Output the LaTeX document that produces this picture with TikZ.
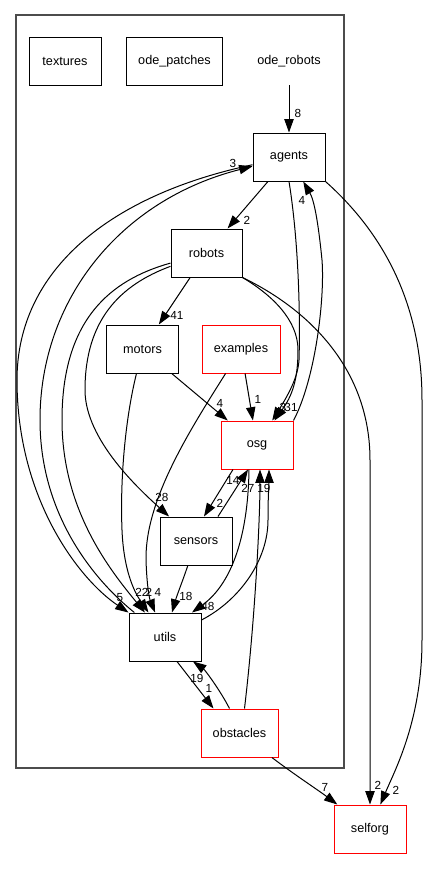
\documentclass[tikz,border=0pt]{standalone}
\usepackage{fontspec}
\setmainfont{Liberation Sans}
\usetikzlibrary{arrows.meta,calc}
\tikzset{
  box/.style={draw, line width=0.75pt, inner sep=0pt, minimum height=36pt, minimum width=54pt, font=\fontsize{9.5}{11}\selectfont},
  redbox/.style={box, draw=red},
  plain/.style={inner sep=0pt, minimum height=36pt, minimum width=54pt, font=\fontsize{9.5}{11}\selectfont},
  e/.style={-{Triangle[length=10pt,width=7pt]}, line width=0.75pt},
  lab/.style={inner sep=0pt, font=\fontsize{8.8}{10}\selectfont},
  cluster/.style={draw=black!70, line width=1pt}
}
\begin{document}
\begin{tikzpicture}[x=0.75pt,y=-0.75pt]
\useasboundingbox (0,0) rectangle (427,869);
\draw[cluster] (16,15) rectangle (344,768);
% nodes
\node[box] (textures) at (65,61) {textures};
\node[box, minimum width=72pt] (odepatches) at (174.5,61) {ode\_patches};
\node[plain] (oderobots) at (289,61) {ode\_robots};
\node[box] (agents) at (289,157) {agents};
\node[box, minimum width=53.25pt] (robots) at (206.5,253) {robots};
\node[box] (motors) at (142.5,349) {motors};
\node[redbox, minimum width=58.5pt] (examples) at (241,349) {examples};
\node[redbox] (osg) at (257,445) {osg};
\node[box] (sensors) at (196,541) {sensors};
\node[box] (utils) at (165,637) {utils};
\node[redbox, minimum width=57.75pt] (obstacles) at (239.5,733) {obstacles};
\node[redbox] (selforg) at (370,829) {selforg};
% edges
\draw[e] (oderobots) -- (agents);
\draw[e] (agents) -- (robots);
\draw[e] (agents) .. controls (110,195) and (17,270) .. (17,380) .. controls (17,500) and (80,580) .. (utils);
\draw[e] (utils) .. controls (100,585) and (40,520) .. (40,420) .. controls (40,300) and (120,200) .. (agents);
\draw[e] (robots) .. controls (110,280) and (62,320) .. (62,420) .. controls (62,510) and (110,570) .. (utils);
\draw[e] (robots) .. controls (120,285) and (85,320) .. (85,390) .. controls (85,440) and (140,490) .. (sensors);
\draw[e] (robots) -- (motors);
\draw[e] (robots.south east) .. controls (272,295) and (298,320) .. (298,350) .. controls (298,380) and (292,396) .. (osg);
\draw[e] (robots.south east) .. controls (310,310) and (370,370) .. (370,460) -- (selforg);
\draw[e] (agents.south) .. controls (300,250) and (300,330) .. (299,360) .. controls (298,376) and (290,392) .. (osg);
\draw[e] (osg.north east) .. controls (315,380) and (325,300) .. (322,260) .. controls (318,220) and (314,200) .. (agents);
\draw[e] (agents.south east) .. controls (380,230) and (422,300) .. (422,400) -- (422,640) .. controls (422,720) and (395,770) .. (selforg);
\draw[e] (motors) -- (osg);
\draw[e] (examples) -- (osg);
\draw[e] (examples) .. controls (190,430) and (145,500) .. (146,560) .. controls (147,590) and (150,600) .. (utils);
\draw[e] (motors) .. controls (125,420) and (120,480) .. (122,530) .. controls (124,580) and (140,600) .. (utils);
\draw[e] (sensors) .. controls (183,580) and (177,595) .. (utils);
\draw[e] ($(osg.south)+(-24,0)$) -- ($(sensors.north)+(8,0)$);
\draw[e] ($(sensors.north)+(22,0)$) -- ($(osg.south)+(-9,0)$);
\draw[e] ($(osg.south)+(-8,0)$) .. controls (248,540) and (230,585) .. ($(utils.north)+(27,0)$);
\draw[e] ($(utils.east)+(0,-17)$) .. controls (240,600) and (268,560) .. (268,520) .. controls (268,495) and (269,485) .. ($(osg.south)+(12,0)$);
\draw[e] ($(obstacles.north)+(5,0)$) .. controls (255,620) and (260,520) .. ($(osg.south)+(3,0)$);
\draw[e] ($(utils.south)+(12,0)$) -- ($(obstacles.north)+(-26,0)$);
\draw[e] ($(obstacles.north)+(-10,0)$) .. controls (220,690) and (205,670) .. ($(utils.south)+(28,0)$);
\draw[e] (obstacles) .. controls (295,775) and (318,790) .. (selforg);
% labels
\node[lab] (l8) at (298,113) {8};
\node[lab] (l2a) at (247,220) {2};
\node[lab] (l3a) at (233,163) {3};
\node[lab] (l4a) at (302,200) {4};
\node[lab] (l5) at (120,598) {5};
\node[lab] (l41) at (177,315) {41};
\node[lab] (l4m) at (220,403) {4};
\node[lab] (l1e) at (258,399) {1};
\node[lab] (l3o) at (283,407) {3};
\node[lab] (l31) at (291,407) {31};
\node[lab] (l28) at (162,497) {28};
\node[lab] (l14) at (233,480) {14};
\node[lab] (l2s) at (220,503) {2};
\node[lab] (l27) at (248,488) {27};
\node[lab] (l19o) at (264,488) {19};
\node[lab] (l22) at (142,592) {22};
\node[lab] (l2u) at (149,592) {2};
\node[lab] (l4u) at (158,592) {4};
\node[lab] (l18) at (186,596) {18};
\node[lab] (l48) at (208,606) {48};
\node[lab] (l19u) at (197,678) {19};
\node[lab] (l1o) at (209,688) {1};
\node[lab] (l7) at (325,787) {7};
\node[lab] (l2r) at (378,785) {2};
\node[lab] (l2g) at (396,790) {2};
\end{tikzpicture}
\end{document}
